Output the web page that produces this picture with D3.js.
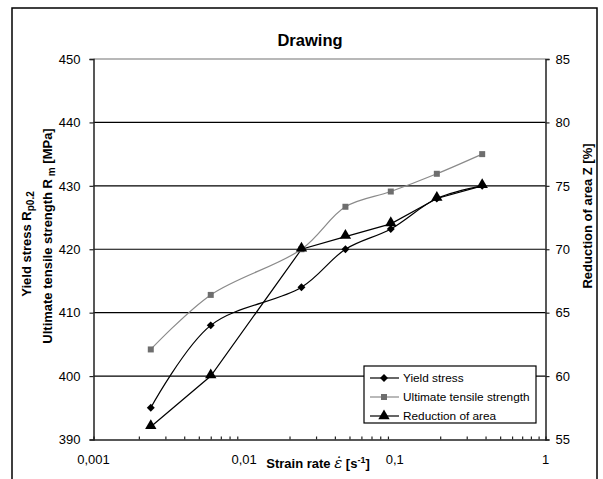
<!DOCTYPE html>
<html>
<head>
  <meta charset="utf-8">
  <script src="https://cdn.jsdelivr.net/npm/d3@7/dist/d3.min.js"></script>
</head>
<style>
  body { margin: 0; background: white; }
  svg { font-family: "Liberation Sans", Arial, sans-serif; }
</style>
<body>
  <svg id="chart" width="603" height="479"></svg>
  <script>
    // data
    var strainRate = [0.0024, 0.006, 0.024, 0.047, 0.094, 0.19, 0.38];
    var yieldStress = [395, 408, 414, 420, 423.2, 428, 430];
    var tensile = [404.2, 412.8, 420, 426.7, 429.1, 431.9, 435];
    var reduction = [56, 60, 70, 71, 72, 74, 75];
    var leftTicks = [390, 400, 410, 420, 430, 440, 450];
    var rightTicks = [55, 60, 65, 70, 75, 80, 85];
    var xTicks = [0.001, 0.01, 0.1, 1];
    var xTickLabels = ['0,001', '0,01', '0,1', '1'];

    var svg = d3.select('#chart');
    var L = 93.5, R = 545.5, T = 59, B = 439.5;

    var x = d3.scaleLog().domain([0.001, 1]).range([L, R]);
    var yL = d3.scaleLinear().domain([390, 450]).range([B, T]);
    var yR = d3.scaleLinear().domain([55, 85]).range([B, T]);

    // outer frame
    svg.append('rect')
      .attr('x', 12).attr('y', 8).attr('width', 585).attr('height', 490)
      .attr('fill', 'none').attr('stroke', 'black').attr('stroke-width', 1.5);

    // title
    svg.append('text')
      .attr('x', 310).attr('y', 46)
      .attr('text-anchor', 'middle')
      .attr('font-size', '16.5px').attr('font-weight', 'bold')
      .text('Drawing');

    // gridlines
    svg.selectAll('line.grid')
      .data(leftTicks.slice(1, -1))
      .enter().append('line')
      .attr('class', 'grid')
      .attr('x1', L).attr('x2', R)
      .attr('y1', function (d) { return yL(d); })
      .attr('y2', function (d) { return yL(d); })
      .attr('stroke', 'black').attr('stroke-width', 1.2);
    // top border of plot area (gray)
    svg.append('line')
      .attr('x1', L).attr('x2', R).attr('y1', yL(450)).attr('y2', yL(450))
      .attr('stroke', '#a0a0a0').attr('stroke-width', 1.5);

    // left axis
    var leftAxis = d3.axisLeft(yL).tickValues(leftTicks).tickSize(4).tickPadding(9);
    var gl = svg.append('g').attr('transform', 'translate(' + L + ',0)').call(leftAxis);
    // right axis
    var rightAxis = d3.axisRight(yR).tickValues(rightTicks).tickSize(4).tickPadding(6);
    var gr = svg.append('g').attr('transform', 'translate(' + R + ',0)').call(rightAxis);
    // bottom axis: minor log ticks pointing up
    var minor = [];
    [0.001, 0.01, 0.1].forEach(function (dec) {
      for (var k = 2; k <= 9; k++) minor.push(dec * k);
    });
    var bottomAxis = d3.axisBottom(x).tickValues(minor).tickSize(-3).tickFormat('');
    var gb = svg.append('g').attr('transform', 'translate(0,' + B + ')').call(bottomAxis);
    svg.selectAll('text.xlab')
      .data(xTicks)
      .enter().append('text')
      .attr('class', 'xlab')
      .attr('x', function (d) { return x(d); })
      .attr('y', 464)
      .attr('text-anchor', 'middle')
      .attr('font-size', '13px')
      .text(function (d, i) { return xTickLabels[i]; });

    [gl, gr, gb].forEach(function (g) {
      g.select('.domain').attr('stroke', '#222').attr('stroke-width', 1.5);
      g.selectAll('.tick line').attr('stroke', '#222').attr('stroke-width', 1.2);
      g.selectAll('.tick text').attr('font-size', '13px').attr('fill', 'black')
        .attr('font-family', '"Liberation Sans", Arial, sans-serif');
    });

    // axis titles
    var t1 = svg.append('text')
      .attr('transform', 'translate(31,244) rotate(-90)')
      .attr('text-anchor', 'middle')
      .attr('font-size', '13px').attr('font-weight', 'bold');
    t1.append('tspan').text('Yield stress R');
    t1.append('tspan').attr('font-size', '10px').attr('dy', 3).text('p0.2');

    var t2 = svg.append('text')
      .attr('transform', 'translate(52,236) rotate(-90)')
      .attr('text-anchor', 'middle')
      .attr('font-size', '13px').attr('font-weight', 'bold');
    t2.append('tspan').text('Ultimate tensile strength R');
    t2.append('tspan').attr('font-size', '10px').attr('dy', 3).text(' m');
    t2.append('tspan').attr('dy', -3).text(' [MPa]');

    svg.append('text')
      .attr('transform', 'translate(592,216) rotate(-90)')
      .attr('text-anchor', 'middle')
      .attr('font-size', '13px').attr('font-weight', 'bold')
      .text('Reduction of area Z [%]');

    var tx = svg.append('text')
      .attr('x', 318).attr('y', 468)
      .attr('text-anchor', 'middle')
      .attr('font-size', '13px').attr('font-weight', 'bold');
    tx.append('tspan').text('Strain rate ');
    tx.append('tspan').attr('font-style', 'italic').attr('font-weight', 'normal')
      .attr('font-size', '15px')
      .attr('font-family', '"DejaVu Serif", serif').text('\u03B5\u0307');
    tx.append('tspan').text('  [s');
    tx.append('tspan').attr('font-size', '9px').attr('dy', -5).text('-1');
    tx.append('tspan').attr('dy', 5).text(']');

    // series
    function pts(vals, ys) {
      return vals.map(function (v, i) { return [x(strainRate[i]), ys(v)]; });
    }
    var smooth = d3.line().curve(d3.curveCatmullRom.alpha(0.5));
    var straight = d3.line();

    var ysPts = pts(yieldStress, yL);
    var utsPts = pts(tensile, yL);
    var rdPts = pts(reduction, yR);

    svg.append('path').attr('d', smooth(utsPts))
      .attr('fill', 'none').attr('stroke', '#8a8a8a').attr('stroke-width', 1.2);
    svg.append('path').attr('d', smooth(ysPts))
      .attr('fill', 'none').attr('stroke', 'black').attr('stroke-width', 1.2);
    svg.append('path').attr('d', straight(rdPts))
      .attr('fill', 'none').attr('stroke', 'black').attr('stroke-width', 1.2);

    var diamond = d3.symbol().type(d3.symbolDiamond2).size(40);
    var square = d3.symbol().type(d3.symbolSquare).size(36);
    var triangle = d3.symbol().type(d3.symbolTriangle).size(56);

    svg.selectAll('path.uts')
      .data(utsPts).enter().append('path')
      .attr('class', 'uts')
      .attr('d', square)
      .attr('transform', function (d) { return 'translate(' + d[0] + ',' + d[1] + ')'; })
      .attr('fill', '#6e6e6e');
    svg.selectAll('path.ys')
      .data(ysPts).enter().append('path')
      .attr('class', 'ys')
      .attr('d', diamond)
      .attr('transform', function (d) { return 'translate(' + d[0] + ',' + d[1] + ')'; })
      .attr('fill', 'black');
    svg.selectAll('path.rd')
      .data(rdPts).enter().append('path')
      .attr('class', 'rd')
      .attr('d', triangle)
      .attr('transform', function (d) { return 'translate(' + d[0] + ',' + (d[1] - 1) + ')'; })
      .attr('fill', 'black');

    // legend
    var legend = svg.append('g');
    legend.append('rect')
      .attr('x', 364).attr('y', 366).attr('width', 172).attr('height', 57)
      .attr('fill', 'white').attr('stroke', 'black').attr('stroke-width', 1.2);
    var entries = [
      { name: 'Yield stress', color: 'black', sym: diamond, mcolor: 'black' },
      { name: 'Ultimate tensile strength', color: '#8a8a8a', sym: square, mcolor: '#6e6e6e' },
      { name: 'Reduction of area', color: 'black', sym: triangle, mcolor: 'black' }
    ];
    var rows = legend.selectAll('g.row')
      .data(entries).enter().append('g')
      .attr('transform', function (d, i) { return 'translate(0,' + (378 + i * 19) + ')'; });
    rows.append('line')
      .attr('x1', 370).attr('x2', 399).attr('y1', 0).attr('y2', 0)
      .attr('stroke', function (d) { return d.color; }).attr('stroke-width', 1.2);
    rows.append('path')
      .attr('d', function (d) { return d.sym(); })
      .attr('transform', 'translate(384,0)')
      .attr('fill', function (d) { return d.mcolor; });
    rows.append('text')
      .attr('x', 403).attr('y', 4)
      .attr('font-size', '11.8px')
      .text(function (d) { return d.name; });
  </script>
</body>
</html>
